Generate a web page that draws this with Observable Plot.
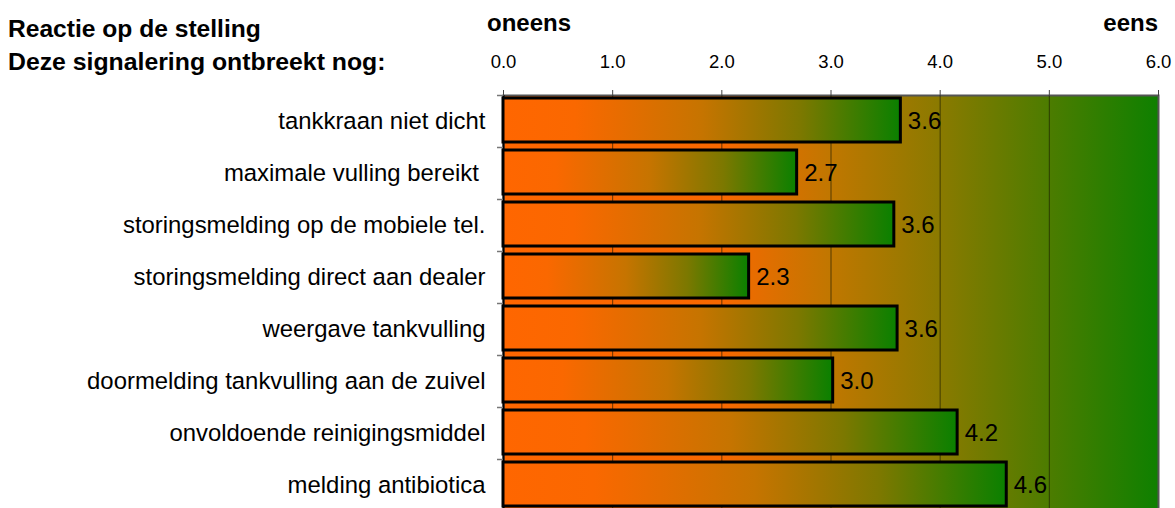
<!DOCTYPE html>
<html><head><meta charset="utf-8">
<script src="https://cdn.jsdelivr.net/npm/d3@7"></script>
<script src="https://cdn.jsdelivr.net/npm/@observablehq/plot@0.6"></script>
<style>
body{margin:0;overflow:hidden;background:#fff;font-family:"Liberation Sans",Arial,sans-serif}
#wrap{position:relative;width:1175px;height:508px;overflow:hidden}
.t{position:absolute;font-weight:bold;font-size:24px;line-height:1;white-space:nowrap;color:#000}
#chart{position:absolute;left:0;top:0}
</style></head>
<body><div id="wrap">
<div id="chart"></div>
<div class="t" style="left:8px;top:17px;font-size:24.6px">Reactie op de stelling</div>
<div class="t" style="left:8px;top:50px;font-size:24.8px">Deze signalering ontbreekt nog:</div>
<div class="t" style="left:487px;top:11px">oneens</div>
<div class="t" style="right:17px;top:11px">eens</div>
</div>
<script>
const categories = [
  "tankkraan niet dicht",
  "maximale vulling bereikt\u00a0",
  "storingsmelding op de mobiele tel.",
  "storingsmelding direct aan dealer",
  "weergave tankvulling",
  "doormelding tankvulling aan de zuivel",
  "onvoldoende reinigingsmiddel",
  "melding antibiotica"
];
const values = [3.64, 2.69, 3.58, 2.25, 3.61, 3.02, 4.16, 4.61];
const xTicks = [0, 1, 2, 3, 4, 5, 6];
const gridTicks = [1, 2, 3, 4, 5];

const data = categories.map((c, i) => ({category: c, value: values[i]}));

const chart = Plot.plot({
  width: 1175, height: 511,
  marginTop: 95, marginBottom: 0, marginLeft: 503, marginRight: 17,
  style: {fontFamily: "'Liberation Sans', Arial, sans-serif", background: "transparent", overflow: "visible", color: "#000"},
  x: {domain: [0, 6], axis: null},
  y: {domain: categories, paddingInner: 0.16, paddingOuter: 0.08, axis: null},
  marks: [
    Plot.frame({fill: "url(#bgGrad)", stroke: "#555", strokeWidth: 2}),
    Plot.ruleX(gridTicks, {stroke: "#1a1a00", strokeOpacity: 0.65, strokeWidth: 1}),
    Plot.ruleX([0], {stroke: "#000", strokeWidth: 2}),
    Plot.axisX({anchor: "top", ticks: xTicks, tickFormat: d => d.toFixed(1), tickSize: 6, tickPadding: 22, fontSize: 18.5, label: null, stroke: "#444"}),
    Plot.axisY({anchor: "left", tickSize: 0, tickPadding: 18, fontSize: 23.9, label: null}),
    Plot.ruleY(categories, {y: d => d, x1: -0.055, x2: 0, dy: -26, stroke: "#777", strokeWidth: 1.5}),
    Plot.barX(data, {x: "value", y: "category", fill: "url(#barGrad)", stroke: "#000", strokeWidth: 3, dy: -1}),
    Plot.text(data, {x: "value", y: "category", text: d => d.value.toFixed(1), textAnchor: "start", dx: 7, dy: 0, fontSize: 24, fill: "#000"})
  ]
});

const ns = "http://www.w3.org/2000/svg";
const defs = document.createElementNS(ns, "defs");
defs.innerHTML = `
<linearGradient id="barGrad" x1="0" x2="1" y1="0" y2="0">
  <stop offset="0" stop-color="#FF6600"/>
  <stop offset="0.18" stop-color="#FA6800"/>
  <stop offset="0.5" stop-color="#C67400"/>
  <stop offset="0.75" stop-color="#7C7800"/>
  <stop offset="1" stop-color="#0A8000"/>
</linearGradient>
<linearGradient id="bgGrad" x1="0" x2="1" y1="0" y2="0">
  <stop offset="0" stop-color="#FF6600"/>
  <stop offset="0.3333" stop-color="#F86800"/>
  <stop offset="0.5" stop-color="#C07700"/>
  <stop offset="0.6667" stop-color="#8A7A00"/>
  <stop offset="0.8333" stop-color="#4C7C00"/>
  <stop offset="1" stop-color="#0E8000"/>
</linearGradient>`;
chart.insertBefore(defs, chart.firstChild);
document.getElementById("chart").appendChild(chart);
</script>
</body></html>
